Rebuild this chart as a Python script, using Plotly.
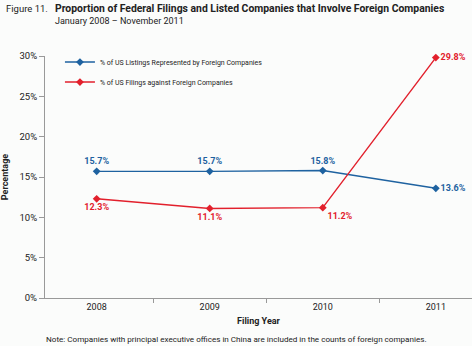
import plotly.graph_objects as go

years = ["2008", "2009", "2010", "2011"]
listings = [15.7, 15.7, 15.8, 13.6]
filings = [12.3, 11.1, 11.2, 29.8]
listings_name = "% of US Listings Represented by Foreign Companies"
filings_name = "% of US Filings against Foreign Companies"
y_ticks = [0, 5, 10, 15, 20, 25, 30]

BLUE = "#1e62a0"
RED = "#e2202c"
FONT = "Roboto"
TXT = "#222"

fig = go.Figure()
fig.add_trace(go.Scatter(
    x=years, y=listings, name=listings_name, mode="lines+markers+text",
    legendgroup="a",
    line=dict(color=BLUE, width=1.4),
    marker=dict(symbol="diamond", size=6, color=BLUE),
    text=[f"{v:.1f}%" for v in listings],
    textposition=["top center", "top center", "top center", "middle right"],
    textfont=dict(color=BLUE, size=9, family=FONT, weight="bold"),
    cliponaxis=False,
))
fig.add_trace(go.Scatter(
    x=years, y=filings, name=filings_name, mode="lines+markers+text",
    legendgroup="b",
    line=dict(color=RED, width=1.4),
    marker=dict(symbol="diamond", size=6, color=RED),
    text=[f"{v:.1f}%" for v in filings],
    textposition=["bottom center", "bottom center", "bottom right", "middle right"],
    textfont=dict(color=RED, size=9, family=FONT, weight="bold"),
    cliponaxis=False,
))

fig.update_layout(
    width=472, height=346,
    margin=dict(l=45, r=0, t=56, b=48),
    paper_bgcolor="#fbfcfb", plot_bgcolor="#fbfcfb",
    font=dict(family=FONT, size=9, color=TXT),
    showlegend=True,
    legend=dict(x=0.035, y=1.035, xanchor="left", yanchor="top",
                bgcolor="rgba(0,0,0,0)", font=dict(size=7, color=TXT),
                itemwidth=30, tracegroupgap=1),
    xaxis=dict(type="category", range=[-0.457, 3.32], tickson="boundaries",
               ticks="outside", ticklen=4, tickcolor="#999",
               showline=True, linecolor="#999", linewidth=1,
               showgrid=False, tickfont=dict(size=9, color=TXT),
               title=dict(text="<b>Filing Year</b>", font=dict(size=9, color=TXT), standoff=6)),
    yaxis=dict(range=[0, 30], tickvals=y_ticks, ticktext=[f"{v}%" for v in y_ticks],
               ticks="outside", ticklen=5, tickcolor="#999",
               showline=True, linecolor="#999", linewidth=1,
               showgrid=False, zeroline=False, tickfont=dict(size=9.5, color=TXT),
               title=dict(text="<b>Percentage</b>", font=dict(size=9, color=TXT), standoff=9)),
)

fig.add_annotation(xref="paper", yref="paper", x=(4 - 45) / 427, y=1 + (56 - 8) / 242,
                   xanchor="left", yanchor="middle", showarrow=False,
                   text="Figure 11.", font=dict(size=9.5, color=TXT))
fig.add_annotation(xref="paper", yref="paper", x=(53 - 45) / 427, y=1 + (56 - 8) / 242,
                   xanchor="left", yanchor="middle", showarrow=False,
                   text="<b>Proportion of Federal Filings and Listed Companies that Involve Foreign Companies</b>",
                   font=dict(size=10.4, color=TXT))
fig.add_annotation(xref="paper", yref="paper", x=(53 - 45) / 427, y=1 + (56 - 21) / 242,
                   xanchor="left", yanchor="middle", showarrow=False,
                   text="January 2008 \u2013 November 2011",
                   font=dict(size=9, color=TXT))
fig.add_annotation(xref="paper", yref="paper", x=(236 - 45) / 427, y=-(339 - 298) / 242,
                   xanchor="center", yanchor="middle", showarrow=False,
                   text="Note: Companies with principal executive offices in China are included in the counts of foreign companies.",
                   font=dict(size=8.1, color=TXT))

fig.write_html("out.html")
